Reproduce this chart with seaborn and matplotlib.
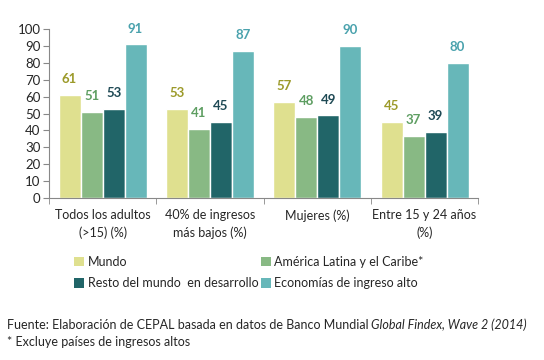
import numpy as np
import pandas as pd
import matplotlib
matplotlib.use("Agg")
import matplotlib.pyplot as plt
import seaborn as sns
from matplotlib.patches import Patch

# datos
categorias = ["Todos los adultos\n(>15) (%)", "40% de ingresos\nmás bajos (%)",
              "Mujeres (%)", "Entre 15 y 24 años\n(%)"]
series = ["Mundo", "América Latina y el Caribe*",
          "Resto del mundo  en desarrollo", "Economías de ingreso alto"]
mundo = [61, 53, 57, 45]
america_latina = [51, 41, 48, 37]
resto_mundo = [53, 45, 49, 39]
ingreso_alto = [91, 87, 90, 80]

colores = ["#dfe08f", "#88b984", "#216568", "#67b7b9"]
colores_etiqueta = ["#9c9a2a", "#5e9e62", "#1f4a55", "#4aa2ad"]

sns.set_style("white")
plt.rcParams["font.family"] = ["Lato", "DejaVu Sans"]

filas = []
for serie, valores in zip(series, [mundo, america_latina, resto_mundo, ingreso_alto]):
    for cat, v in zip(categorias, valores):
        filas.append({"categoria": cat, "serie": serie, "valor": v})
df = pd.DataFrame(filas)

fig = plt.figure(figsize=(5.44, 3.6), dpi=100)
ax = fig.add_axes([0.09, 0.45, 0.789, 0.469])

sns.barplot(data=df, x="categoria", y="valor", hue="serie", palette=colores,
            width=0.82, gap=0, saturation=1, ax=ax, legend=False)

for cont, c in zip(ax.containers, colores_etiqueta):
    ax.bar_label(cont, padding=7, color=c, fontsize=9.5, fontweight="bold")

ax.set_ylim(0, 100)
ax.set_yticks(np.arange(0, 101, 10))
ax.set_xlim(-0.5, len(categorias) - 0.5)
ax.set_xlabel("")
ax.set_ylabel("")
ax.tick_params(axis="y", labelsize=9.5, length=4, color="#888888", pad=2, left=True)
ax.tick_params(axis="x", which="major", length=0, labelsize=9, pad=8)
ax.set_xticks(np.arange(-0.5, len(categorias)), minor=True)
ax.tick_params(axis="x", which="minor", length=4, color="#888888", bottom=True)
for lab in ax.get_xticklabels():
    lab.set_linespacing(1.5)

for s in ["top", "right"]:
    ax.spines[s].set_visible(False)
for s in ["left", "bottom"]:
    ax.spines[s].set_color("#888888")
    ax.spines[s].set_linewidth(0.8)

# leyenda por filas: se reordena para que ncol=2 la llene fila a fila
orden = [0, 2, 1, 3]
handles = [Patch(facecolor=colores[i], edgecolor="none") for i in orden]
fig.legend(handles, [series[i] for i in orden], ncol=2, loc="upper left",
           bbox_to_anchor=(0.115, 0.321), frameon=False, fontsize=9,
           handlelength=0.8, handleheight=0.8, handletextpad=0.3,
           columnspacing=0.2, labelspacing=0.75)

t1 = fig.text(0.012, 0.085, "Fuente: Elaboración de CEPAL basada en datos de Banco Mundial",
              fontsize=9, va="baseline")
fig.canvas.draw()
bb = t1.get_window_extent()
x2 = (bb.x1 + 3) / fig.bbox.width
fig.text(x2, 0.085, "Global Findex, Wave 2 (2014)", fontsize=9, style="italic", va="baseline")
fig.text(0.012, 0.038, "* Excluye países de ingresos altos", fontsize=9, va="baseline")

fig.savefig("out.png", dpi=100)
